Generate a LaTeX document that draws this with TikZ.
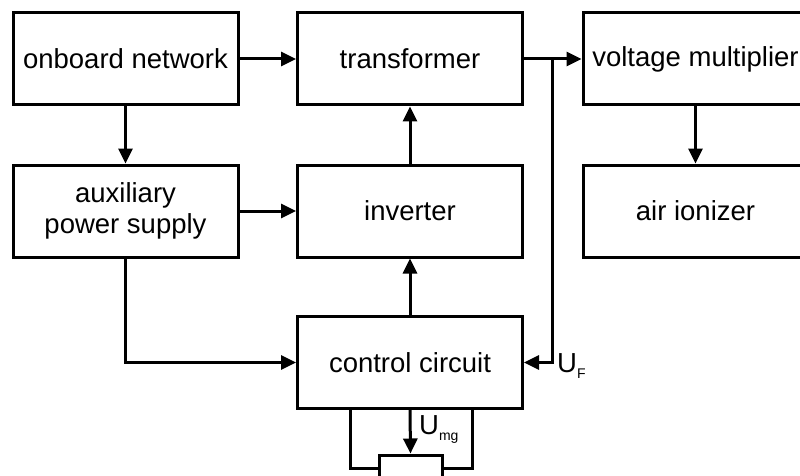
\documentclass[tikz,border=0pt]{standalone}
\usepackage{fontspec}
\setmainfont{Liberation Sans}
\usetikzlibrary{arrows.meta}
\newcommand{\lowsub}[1]{\raisebox{-6pt}{\fontsize{14}{14}\selectfont #1}}
\begin{document}
\begin{tikzpicture}[x=1pt,y=-1pt,
  blk/.style={draw,line width=3pt,rectangle,minimum width=225pt,minimum height=92pt,inner sep=0pt,align=center,font=\fontsize{27.5}{31}\selectfont},
  conn/.style={line width=3pt},
  arr/.style={conn,-{Triangle[length=15pt,width=14pt]}},
  lab/.style={inner sep=0pt,font=\fontsize{27.5}{31}\selectfont}]
\useasboundingbox (0,0) rectangle (800,476);
\clip (0,0) rectangle (800,476);
\node[blk] (on) at (125.5,59) {onboard network};
\node[blk] (tr) at (410,59) {transformer};
\node[blk] (vm) at (695.5,59) {voltage multiplier};
\node[blk] (aux) at (125.5,211) {auxiliary\\power supply};
\node[blk] (inv) at (410,211) {inverter};
\node[blk] (ai) at (695.5,211) {air ionizer};
\node[blk] (cc) at (410,362.5) {control circuit};
\node[draw,line width=3pt,rectangle,minimum width=63pt,minimum height=26pt,inner sep=0pt] (sb) at (410.5,468) {};
\coordinate (j) at (552,59);
\draw[arr] (on) -- (tr);
\draw[arr] (on) -- (aux);
\draw[arr] (aux) -- (inv);
\draw[arr] (inv) -- (tr);
\draw[arr] (cc) -- (inv);
\draw[arr] (tr) -- (vm);
\draw[arr] (vm) -- (ai);
\draw[arr] (aux.south) |- (cc.west);
\draw[arr] (j) |- (cc.east);
\draw[arr] (cc.south) -- (sb.north);
\draw[conn] ([xshift=-60pt]cc.south) |- (sb.west);
\draw[conn] ([xshift=62pt]cc.south) |- (sb.east);
\node[lab,anchor=west] (uf) at (557,366) {U\lowsub{F}};
\node[lab,anchor=west] (umg) at (419,429) {U\lowsub{mg}};
\end{tikzpicture}
\end{document}
